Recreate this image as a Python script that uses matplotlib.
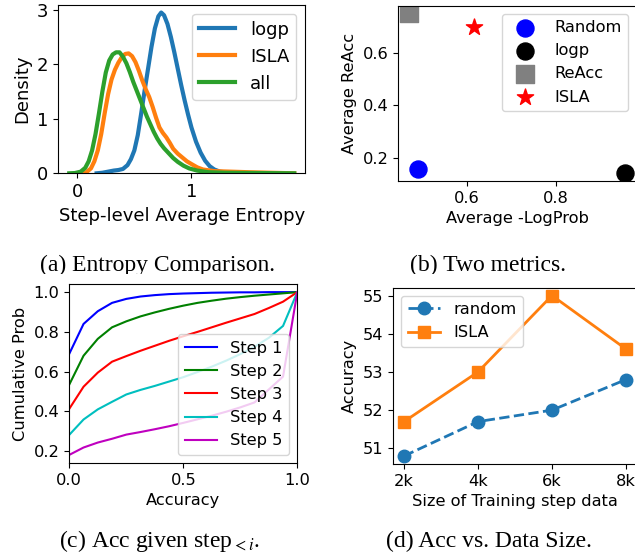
import matplotlib
matplotlib.use('Agg')
import matplotlib.pyplot as plt
from matplotlib.transforms import Bbox, TransformedBbox

plt.rcParams['mathtext.fontset'] = 'stix'

# (a) entropy density curves
logp_x = [0.17, 0.22, 0.27, 0.32, 0.36, 0.40, 0.44, 0.47, 0.50, 0.53, 0.56, 0.59, 0.62, 0.65,
          0.68, 0.71, 0.735, 0.76, 0.79, 0.82, 0.85, 0.88, 0.91, 0.94, 0.97, 1.00, 1.04, 1.08,
          1.12, 1.16, 1.20, 1.25, 1.32, 1.40]
logp_y = [0.0, 0.01, 0.03, 0.05, 0.06, 0.08, 0.15, 0.26, 0.42, 0.70, 1.10, 1.52, 1.92, 2.32,
          2.66, 2.88, 2.95, 2.90, 2.74, 2.50, 2.22, 1.92, 1.62, 1.34, 1.08, 0.84, 0.58, 0.38,
          0.23, 0.13, 0.07, 0.03, 0.01, 0.0]
isla_x = [0.04, 0.08, 0.12, 0.15, 0.18, 0.21, 0.24, 0.27, 0.30, 0.33, 0.36, 0.39, 0.42, 0.45,
          0.48, 0.51, 0.54, 0.57, 0.60, 0.63, 0.66, 0.69, 0.72, 0.75, 0.78, 0.81, 0.84, 0.88,
          0.92, 0.96, 1.00, 1.05, 1.10, 1.20, 1.35, 1.50, 1.70, 1.90]
isla_y = [0.0, 0.02, 0.09, 0.22, 0.42, 0.72, 1.10, 1.45, 1.72, 1.90, 2.03, 2.13, 2.19, 2.20,
          2.15, 2.04, 1.88, 1.70, 1.54, 1.40, 1.22, 1.02, 0.84, 0.74, 0.66, 0.56, 0.45, 0.36,
          0.29, 0.22, 0.17, 0.11, 0.07, 0.04, 0.03, 0.02, 0.01, 0.0]
all_x = [-0.07, -0.02, 0.03, 0.07, 0.10, 0.13, 0.16, 0.19, 0.22, 0.25, 0.28, 0.31, 0.34, 0.37,
         0.40, 0.43, 0.46, 0.49, 0.52, 0.55, 0.58, 0.61, 0.64, 0.67, 0.70, 0.73, 0.76, 0.80,
         0.84, 0.88, 0.93, 0.98, 1.05, 1.15, 1.30, 1.90]
all_y = [0.0, 0.005, 0.03, 0.10, 0.22, 0.42, 0.72, 1.10, 1.50, 1.85, 2.07, 2.18, 2.22, 2.22,
         2.14, 2.02, 1.86, 1.68, 1.52, 1.36, 1.20, 1.04, 0.90, 0.76, 0.64, 0.54, 0.46, 0.37,
         0.28, 0.21, 0.14, 0.09, 0.05, 0.02, 0.01, 0.0]

# (b) two metrics
metric_names = ['Random', 'logp', 'ReAcc', 'ISLA']
neg_logprob = [0.49, 0.955, 0.47, 0.616]
reacc = [0.158, 0.143, 0.748, 0.695]
metric_colors = ['blue', 'black', 'grey', 'red']
metric_markers = ['o', 'o', 's', '*']

# (c) cumulative prob given step
acc_x = [0.0, 0.0625, 0.125, 0.1875, 0.25, 0.3125, 0.375, 0.4375, 0.5, 0.5625, 0.625,
         0.6875, 0.75, 0.8125, 0.875, 0.9375, 1.0]
step_curves = [
    [0.69, 0.84, 0.904, 0.946, 0.966, 0.978, 0.985, 0.99, 0.993, 0.995, 0.997, 0.998, 0.999,
     0.999, 1.0, 1.0, 1.0],
    [0.535, 0.68, 0.765, 0.823, 0.853, 0.878, 0.898, 0.916, 0.932, 0.946, 0.957, 0.967, 0.975,
     0.982, 0.988, 0.994, 1.0],
    [0.413, 0.524, 0.595, 0.65, 0.678, 0.705, 0.73, 0.755, 0.778, 0.80, 0.823, 0.846, 0.868,
     0.89, 0.92, 0.952, 1.0],
    [0.282, 0.359, 0.41, 0.448, 0.485, 0.508, 0.528, 0.55, 0.572, 0.598, 0.625, 0.655, 0.688,
     0.725, 0.77, 0.83, 1.0],
    [0.181, 0.218, 0.243, 0.262, 0.283, 0.296, 0.31, 0.325, 0.342, 0.36, 0.378, 0.398, 0.42,
     0.445, 0.51, 0.575, 1.0],
]
step_labels = ['Step 1', 'Step 2', 'Step 3', 'Step 4', 'Step 5']
step_colors = ['b', 'g', 'r', 'c', 'm']

# (d) accuracy vs data size
sizes = ['2k', '4k', '6k', '8k']
acc_random = [50.8, 51.7, 52.0, 52.8]
acc_isla = [51.7, 53.0, 55.0, 53.6]

W, H = 635, 560
fig = plt.figure(figsize=(W / 100, H / 100), dpi=100)


def px_axes(l, t, r, b):
    return fig.add_axes([l / W, 1 - b / H, (r - l) / W, (b - t) / H])


# (a)
fs = 13
ax = px_axes(58, 4.5, 305.5, 173.3)
ax.plot(logp_x, logp_y, color='C0', lw=3, label='logp')
ax.plot(isla_x, isla_y, color='C1', lw=3, label='ISLA')
ax.plot(all_x, all_y, color='C2', lw=3, label='all')
ax.set_ylim(bottom=0)
ax.set_xticks([0, 1])
ax.set_yticks([0, 1, 2, 3])
ax.tick_params(labelsize=fs)
ax.set_xlabel('Step-level Average Entropy', fontsize=fs)
ax.set_ylabel('Density', fontsize=fs)
ax.legend(loc='upper right', fontsize=fs)

# (b)
fs = 11.7
ax = px_axes(398, 5.5, 636, 181)
for x, y, c, m, n in zip(neg_logprob, reacc, metric_colors, metric_markers, metric_names):
    ax.scatter(x, y, color=c, marker=m, s=150, label=n)
ax.set_xticks([0.6, 0.8])
ax.set_yticks([0.2, 0.4, 0.6])
ax.tick_params(labelsize=fs)
ax.set_xlabel('Average -LogProb', fontsize=fs)
ax.set_ylabel('Average ReAcc', fontsize=fs)
ax.legend(loc='upper right', fontsize=fs)

# (c)
ax = px_axes(69.3, 284, 297.3, 463)
for ys, c, lab in zip(step_curves, step_colors, step_labels):
    ax.plot(acc_x, ys, color=c, lw=1.5, label=lab)
ax.set_xlim(0, 1)
ax.set_xticks([0.0, 0.5, 1.0])
ax.tick_params(labelsize=fs)
ax.set_xlabel('Accuracy', fontsize=fs)
ax.set_ylabel('Cumulative Prob', fontsize=fs)
ax.legend(loc='lower right', fontsize=fs)

# (d)
ax = px_axes(393, 287.5, 637, 464)
ax.plot(sizes, acc_random, 'o--', color='C0', lw=2, ms=9, label='random')
ax.plot(sizes, acc_isla, 's-', color='C1', lw=2, ms=9, label='ISLA')
ax.tick_params(labelsize=fs)
ax.set_xlabel('Size of Training step data', fontsize=fs)
ax.set_ylabel('Accuracy', fontsize=fs)
ax.legend(loc='upper left', fontsize=fs)

# captions
cap = dict(family='Liberation Serif', fontsize=17, ha='center', va='baseline')
clip = TransformedBbox(Bbox([[0, 1 - 274 / H], [1, 1]]), fig.transFigure)
for txt, x in [('(a) Entropy Comparison.', 158), ('(b) Two metrics.', 488)]:
    t = fig.text(x / W, 1 - 271 / H, txt, **cap)
    t.set_clip_box(clip)
    t.set_clip_on(True)
fig.text(159 / W, 1 - 547 / H, '(c) Acc given step$_{<i}$.', **cap)
fig.text(489 / W, 1 - 547 / H, '(d) Acc vs. Data Size.', **cap)

fig.savefig('out.png', dpi=100)
